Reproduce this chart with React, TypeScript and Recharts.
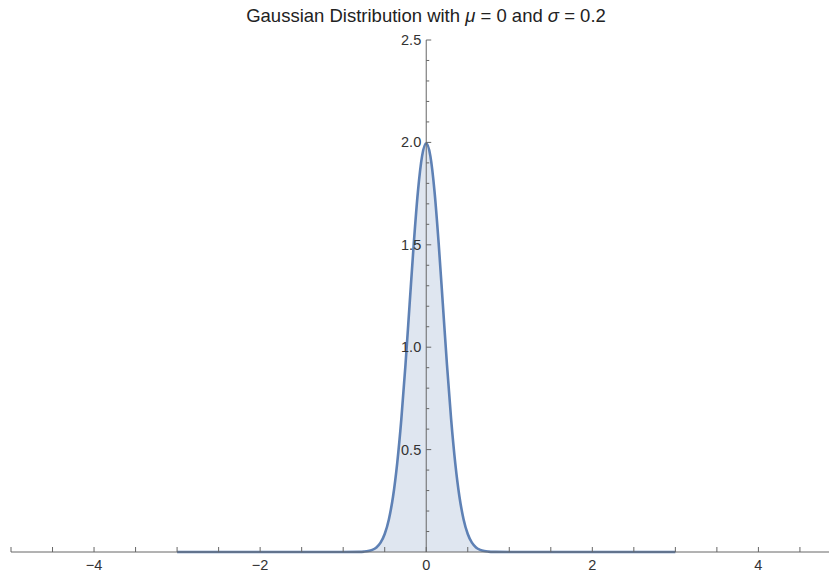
import React from 'react';
import { ComposedChart, Area, Scatter, XAxis, YAxis, ReferenceLine } from 'recharts';

const xValues = [-3, -1, -0.8, -0.75, -0.7, -0.65, -0.6, -0.55, -0.5, -0.45, -0.4, -0.35, -0.3, -0.25, -0.2, -0.15, -0.1, -0.05, 0, 0.05, 0.1, 0.15, 0.2, 0.25, 0.3, 0.35, 0.4, 0.45, 0.5, 0.55, 0.6, 0.65, 0.7, 0.75, 0.8, 1, 3];
const densityValues = [0, 0, 0.0007, 0.0019, 0.0044, 0.0102, 0.0222, 0.0455, 0.0876, 0.159, 0.27, 0.432, 0.648, 0.913, 1.21, 1.506, 1.76, 1.933, 1.995, 1.933, 1.76, 1.506, 1.21, 0.913, 0.648, 0.432, 0.27, 0.159, 0.0876, 0.0455, 0.0222, 0.0102, 0.0044, 0.0019, 0.0007, 0, 0];

const xTicks = [-5, -4.5, -4, -3.5, -3, -2.5, -2, -1.5, -1, -0.5, 0, 0.5, 1, 1.5, 2, 2.5, 3, 3.5, 4, 4.5];
const xTickLabels: Record<string, string> = { '-4': '\u22124', '-2': '\u22122', '0': '0', '2': '2', '4': '4' };
const yTicks = [0.1, 0.2, 0.3, 0.4, 0.5, 0.6, 0.7, 0.8, 0.9, 1.0, 1.1, 1.2, 1.3, 1.4, 1.5, 1.6, 1.7, 1.8, 1.9, 2.0, 2.1, 2.2, 2.3, 2.4, 2.5];
const yMajor = [0.5, 1.0, 1.5, 2.0, 2.5];

const data = xValues.map((x, i) => ({ x, y: densityValues[i] }));
const yTickData = yTicks.map((v) => ({ x: 0, y: v, major: yMajor.some((m) => Math.abs(m - v) < 1e-9) }));

const AXIS = '#666666';
const FONT = '"Liberation Sans", Arial, sans-serif';

const XTick = (props: any) => {
  const { x, y, payload } = props;
  const label = xTickLabels[String(payload.value)];
  return (
    <g>
      <line x1={x} x2={x} y1={y} y2={y - 5} stroke={AXIS} strokeWidth={1} />
      {label ? (
        <text x={x} y={y + 18} textAnchor="middle" fontSize={14.5} fill="#333" fontFamily={FONT}>
          {label}
        </text>
      ) : null}
    </g>
  );
};

const YTickShape = (props: any) => {
  const { cx, cy, payload } = props;
  const major = payload.major;
  return (
    <g>
      <line x1={cx} x2={cx + (major ? 5 : 3)} y1={cy} y2={cy} stroke={AXIS} strokeWidth={1} />
      {major ? (
        <text x={cx - 5} y={cy + 5} textAnchor="end" fontSize={14.5} fill="#333" fontFamily={FONT}>
          {payload.y.toFixed(1)}
        </text>
      ) : null}
    </g>
  );
};

export default function App() {
  return (
    <div style={{ position: 'absolute', left: 0, top: 0, width: 829, height: 572, background: '#fff' }}>
      <div
        style={{
          position: 'absolute',
          left: 0,
          top: 5,
          width: 852,
          textAlign: 'center',
          fontFamily: FONT,
          fontSize: 18.5,
          color: '#222',
          zIndex: 2,
        }}
      >
        Gaussian Distribution with <i>{'\u03BC'}</i> = 0 and <i>{'\u03C3'}</i> = 0.2
      </div>
      <ComposedChart width={829} height={572} data={data} margin={{ top: 40, right: 0, bottom: 0, left: 11 }}>
        <XAxis
          dataKey="x"
          type="number"
          domain={[-5, 4.85]}
          ticks={xTicks}
          interval={0}
          tickSize={0}
          tickMargin={0}
          tickLine={false}
          tick={<XTick />}
          height={20}
          axisLine={{ stroke: AXIS, strokeWidth: 1 }}
        />
        <YAxis type="number" domain={[0, 2.5]} hide />
        <ReferenceLine x={0} stroke={AXIS} strokeWidth={1} />
        <Area
          type="monotone"
          dataKey="y"
          stroke="#5e81b5"
          strokeWidth={2.6}
          fill="#5e81b5"
          fillOpacity={0.2}
          isAnimationActive={false}
          baseValue={0}
        />
        <Scatter data={yTickData} dataKey="y" shape={<YTickShape />} isAnimationActive={false} />
      </ComposedChart>
    </div>
  );
}
